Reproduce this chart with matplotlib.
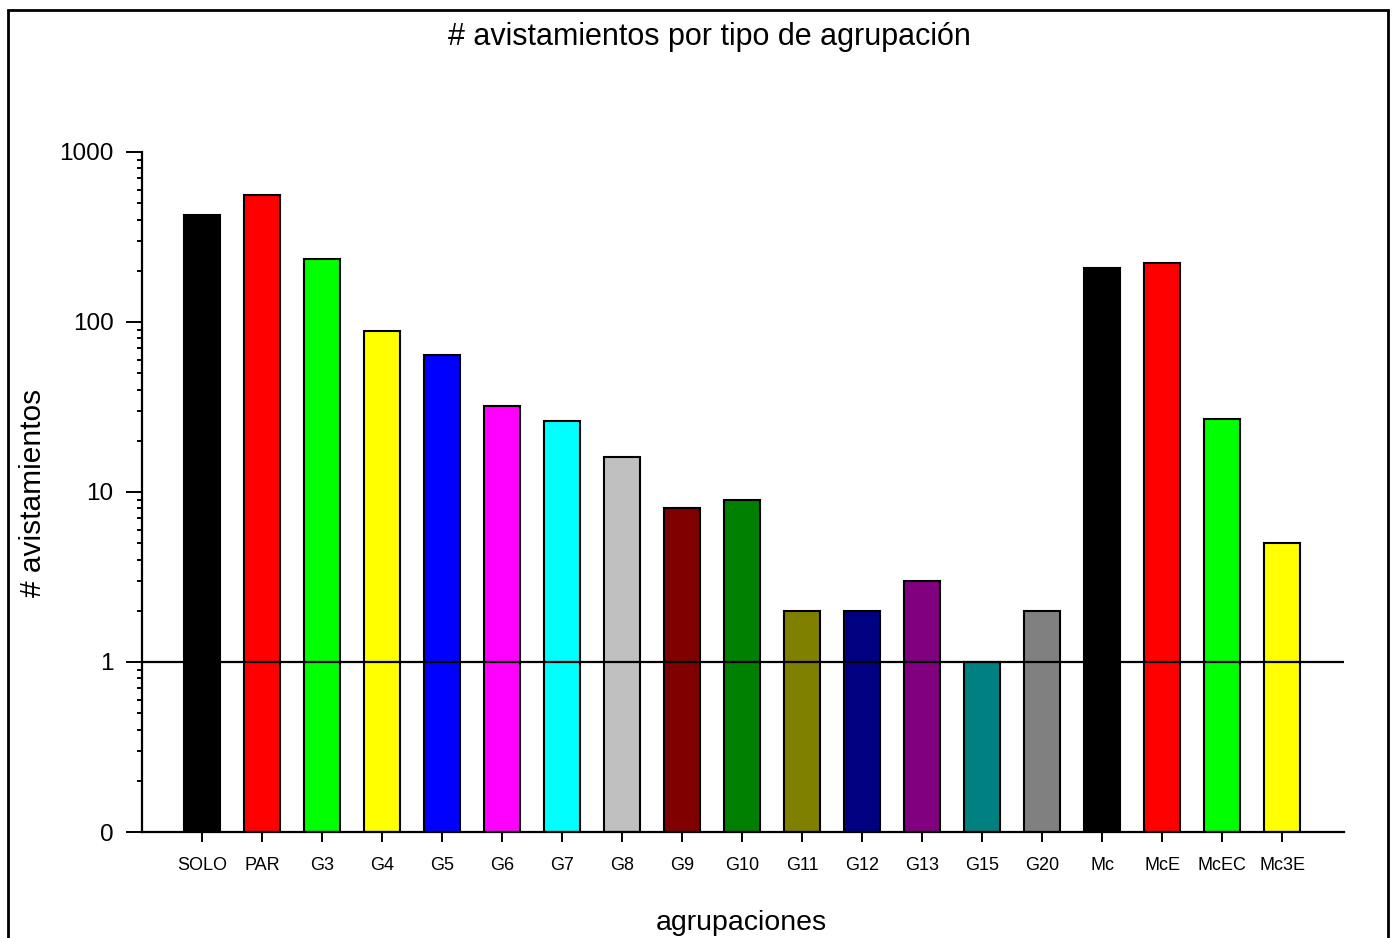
import matplotlib
matplotlib.use('Agg')
import matplotlib.pyplot as plt
from matplotlib.patches import Rectangle
from matplotlib.ticker import FixedLocator, FixedFormatter, LogLocator, NullFormatter
import numpy as np

plt.rcParams['font.family'] = ['Liberation Sans', 'DejaVu Sans']

categorias = ['SOLO', 'PAR', 'G3', 'G4', 'G5', 'G6', 'G7', 'G8', 'G9', 'G10',
              'G11', 'G12', 'G13', 'G15', 'G20', 'Mc', 'McE', 'McEC', 'Mc3E']
avistamientos = [423, 556, 236, 88, 64, 32, 26, 16, 8, 9,
                 2, 2, 3, 1, 2, 208, 222, 27, 5]
colores = ['#000000', '#FF0000', '#00FF00', '#FFFF00', '#0000FF', '#FF00FF',
           '#00FFFF', '#C0C0C0', '#800000', '#008000', '#808000', '#000080',
           '#800080', '#008080', '#808080', '#000000', '#FF0000', '#00FF00', '#FFFF00']
yticks = [0.1, 1, 10, 100, 1000]
ytick_labels = ['0', '1', '10', '100', '1000']

fig = plt.figure(figsize=(13.94, 9.38), dpi=100)
ax = fig.add_axes([0.1019, 0.1130, 0.8622, 0.7250])

x = np.arange(len(categorias))
base = 0.1
ax.bar(x, np.array(avistamientos) - base, bottom=base, width=0.6,
       color=colores, edgecolor='black', linewidth=1.5, zorder=2)
ax.axhline(1, color='black', linewidth=1.6, zorder=3)

ax.set_yscale('log')
ax.set_ylim(0.1, 1000)
ax.set_xlim(-1, 19.03)

ax.yaxis.set_major_locator(FixedLocator(yticks))
ax.yaxis.set_major_formatter(FixedFormatter(ytick_labels))
ax.yaxis.set_minor_locator(LogLocator(base=10, subs=np.arange(2, 10)))
ax.yaxis.set_minor_formatter(NullFormatter())
ax.set_xticks(x)
ax.set_xticklabels(categorias, fontsize=13)

ax.tick_params(axis='y', which='major', length=11.5, width=1.4, labelsize=17.5, pad=9)
ax.tick_params(axis='y', which='minor', length=3.6, width=1.4)
ax.tick_params(axis='x', which='major', length=7, width=1.4, pad=11)

for s in ['top', 'right']:
    ax.spines[s].set_visible(False)
for s in ['left', 'bottom']:
    ax.spines[s].set_linewidth(1.6)

fig.text(0.509, 0.961, '# avistamientos por tipo de agrupación',
         ha='center', va='center', fontsize=22)
fig.text(0.0237, 0.474, '# avistamientos', rotation=90,
         ha='center', va='center', fontsize=21.5)
fig.text(0.532, 0.016, 'agrupaciones', ha='center', va='center', fontsize=20.5)

# marco exterior abierto por abajo
fig.patches.append(Rectangle((8 / 1394, -0.05), 1380 / 1394, 1.05 - 10 / 938,
                             transform=fig.transFigure, fill=False,
                             edgecolor='black', linewidth=2))

fig.savefig('out.png', dpi=100)
